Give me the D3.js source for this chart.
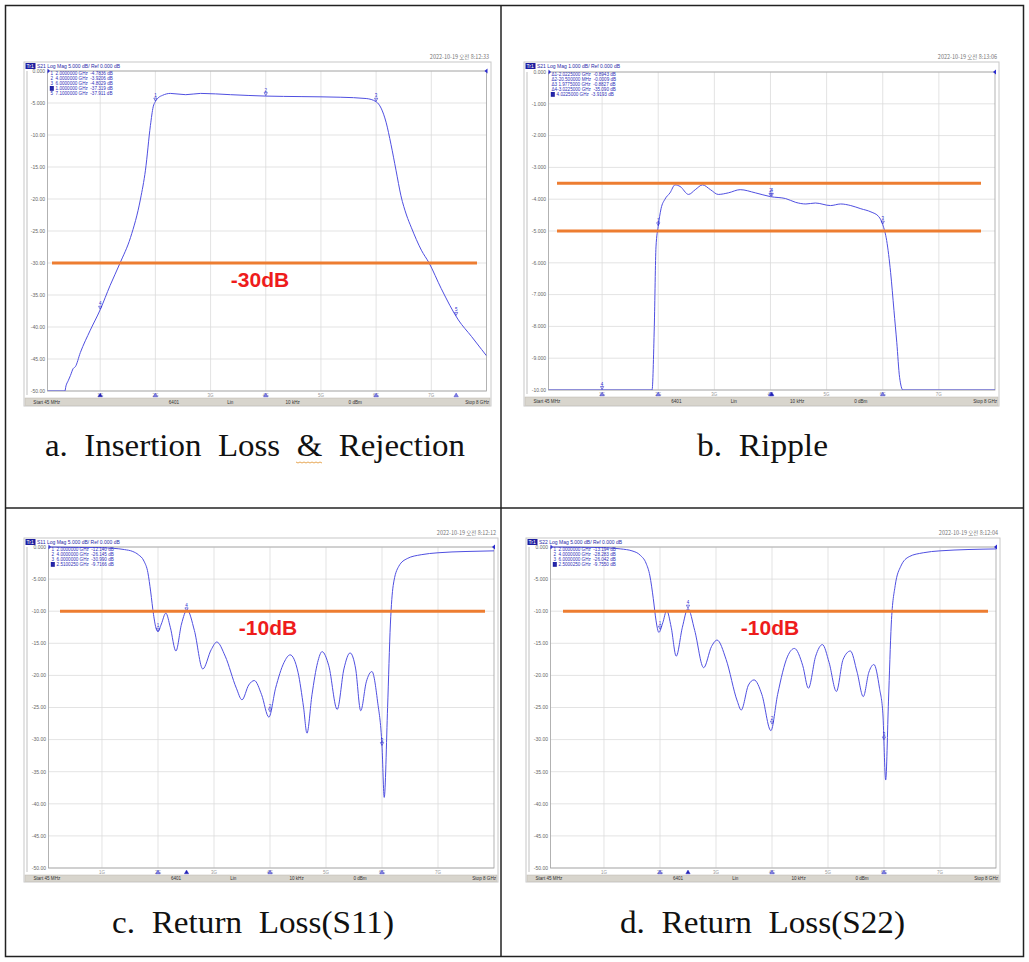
<!DOCTYPE html>
<html><head><meta charset="utf-8">
<script src="https://cdn.jsdelivr.net/npm/d3@7"></script>
<style>body{margin:0;background:#fff}</style>
</head><body>
<svg id="chart" width="1029" height="962" xmlns="http://www.w3.org/2000/svg"></svg>
<script>
// ---------------- DATA ----------------
const xGridGHz = [1, 2, 3, 4, 5, 6, 7];
const xTickLabels = ["1G", "2G", "3G", "4G", "5G", "6G", "7G"];
const yTicks50 = [0, -5, -10, -15, -20, -25, -30, -35, -40, -45, -50];
const yTickLabels50 = ["0.000", "-5.000", "-10.00", "-15.00", "-20.00", "-25.00", "-30.00", "-35.00", "-40.00", "-45.00", "-50.00"];
const yTicks10 = [0, -1, -2, -3, -4, -5, -6, -7, -8, -9, -10];
const yTickLabels10 = ["0.000", "-1.000", "-2.000", "-3.000", "-4.000", "-5.000", "-6.000", "-7.000", "-8.000", "-9.000", "-10.00"];
const statusTexts = ["Start 45 MHz", "6401", "Lin", "10 kHz", "0 dBm", "Stop 8 GHz"];

// Panel a : S21 insertion loss & rejection (GHz, dB)
const freqA = [0.045, 0.36, 0.38, 0.42, 0.46, 0.51, 0.55, 0.64, 0.82, 1.0, 1.18, 1.36, 1.55, 1.73, 1.82, 1.91, 1.96, 2.0, 2.05, 2.13, 2.27, 2.55, 2.82, 3.36, 4.0, 4.64, 5.36, 5.82, 6.0, 6.09, 6.18, 6.27, 6.36, 6.45, 6.55, 6.64, 6.82, 6.96, 7.18, 7.49, 7.73, 7.91, 8.0];
const s21A  = [-50, -50, -49.2, -48.4, -47.6, -46.5, -46.2, -44, -40.5, -37.3, -33.5, -30, -26, -20, -15.5, -8.5, -5.6, -4.78, -4.2, -3.8, -3.5, -3.7, -3.5, -3.7, -3.92, -4.0, -4.1, -4.3, -4.8, -5.8, -8, -11.5, -15.5, -19.5, -22.5, -24.5, -28, -30, -34, -38.9, -41.5, -43.5, -44.5];
const markerFreqA = [2.0, 4.0, 6.0, 1.0, 7.45];
const markerNamesA = ["1", "2", "3", "4", "5"];
const markerTextsA = ["1  2.0000000 GHz  -4.7836 dB", "2  4.0000000 GHz  -3.9206 dB", "3  6.0000000 GHz  -4.8029 dB", "4  1.0000000 GHz  -37.319 dB", "5  7.1000000 GHz  -37.911 dB"];

// Panel b : S21 ripple
const freqB = [0.045, 1.89, 1.93, 1.96, 2.0, 2.05, 2.12, 2.21, 2.3, 2.39, 2.54, 2.66, 2.79, 2.93, 3.07, 3.25, 3.46, 3.73, 4.0, 4.27, 4.45, 4.63, 4.8, 5.07, 5.25, 5.43, 5.61, 5.79, 5.93, 6.0, 6.07, 6.14, 6.2, 6.25, 6.3, 6.36, 8.0];
const s21B  = [-10, -10, -8, -5.5, -4.85, -4.3, -4.0, -3.8, -3.55, -3.6, -3.85, -3.7, -3.55, -3.7, -3.85, -3.8, -3.7, -3.8, -3.92, -3.98, -4.1, -4.15, -4.12, -4.2, -4.15, -4.2, -4.3, -4.4, -4.55, -4.8, -5.3, -6.3, -7.5, -8.5, -9.6, -10, -10];
const markerFreqB = [2.0, 4.002, 6.0, 1.0, 4.0225];
const markerNamesB = ["1", "2", "3", "4", "4"];
const markerTextsB = ["\u03941-2.0225000 GHz  -0.8943 dB", "\u03942-20.500000 MHz  -0.0009 dB", "\u03943 1.9775000 GHz  -0.8827 dB", "\u03944-3.0225000 GHz  -35.090 dB", "4  4.0225000 GHz  -3.9193 dB"];
const ripplePass = [-3.5, -5.0];

// Panel c : S11 return loss
const freqC = [0.045, 0.5, 1.0, 1.2, 1.4, 1.55, 1.65, 1.75, 1.82, 1.87, 1.92, 1.97, 2.0, 2.06, 2.14, 2.22, 2.32, 2.42, 2.52, 2.65, 2.8, 2.95, 3.05, 3.2, 3.4, 3.5, 3.62, 3.72, 3.85, 3.98, 4.1, 4.25, 4.36, 4.5, 4.6, 4.66, 4.75, 4.85, 4.93, 5.05, 5.2, 5.32, 5.43, 5.53, 5.62, 5.72, 5.82, 5.92, 6.0, 6.04, 6.1, 6.15, 6.2, 6.3, 6.45, 6.7, 7.0, 7.5, 8.0];
const s11C  = [0, -0.05, -0.1, -0.2, -0.4, -0.7, -1.2, -2.2, -4, -7, -10.5, -12.8, -13.2, -12, -10.3, -12.5, -16.2, -12, -9.8, -13, -19, -16, -14.8, -17, -22, -23.8, -21.5, -20.8, -23, -26.5, -22, -18, -16.8, -19.5, -25, -29, -23, -18, -16.3, -18.5, -25.3, -19, -16.5, -19, -25.5, -21, -19.4, -24, -31, -39, -25, -12, -6, -3, -1.8, -1.2, -0.9, -0.7, -0.6];
const markerFreqC = [2.0, 4.0, 6.0, 2.51];
const markerNamesC = ["1", "2", "3", "4"];
const markerTextsC = ["1  2.0000000 GHz  -12.140 dB", "2  4.0000000 GHz  -26.145 dB", "3  6.0000000 GHz  -30.990 dB", "4  2.5100250 GHz  -9.7166 dB"];

// Panel d : S22 return loss
const freqD = [0.045, 1.0, 1.3, 1.5, 1.65, 1.75, 1.82, 1.88, 1.93, 1.98, 2.05, 2.12, 2.2, 2.29, 2.4, 2.5, 2.62, 2.78, 2.92, 3.02, 3.18, 3.38, 3.45, 3.58, 3.68, 3.82, 3.98, 4.1, 4.28, 4.4, 4.55, 4.65, 4.78, 4.9, 5.02, 5.15, 5.27, 5.4, 5.52, 5.63, 5.73, 5.82, 5.92, 5.98, 6.03, 6.08, 6.13, 6.2, 6.3, 6.45, 6.7, 7.0, 8.0];
const s22D  = [0, -0.1, -0.3, -0.6, -1.3, -2.5, -4.5, -8, -11.5, -13.3, -11.8, -9.9, -12.5, -17, -12.5, -9.6, -13, -18.8, -15.5, -14.5, -17.5, -24, -25.4, -21.5, -20.7, -23, -28.6, -23, -17, -15.8, -18.5, -22, -17, -15.2, -18, -22.5, -17.5, -16.2, -19.5, -23.3, -19.5, -18.3, -22, -26, -36.3, -24, -12, -6, -3, -1.5, -0.9, -0.6, -0.3];
const markerFreqD = [2.0, 4.0, 6.0, 2.5];
const markerNamesD = ["1", "2", "3", "4"];
const markerTextsD = ["1  2.0000000 GHz  -13.194 dB", "2  4.0000000 GHz  -28.283 dB", "3  6.0000000 GHz  -26.042 dB", "4  2.5000250 GHz  -9.7550 dB"];

const limitC = -10, limitD = -10, limitA = -30;
const captions = ["a.  Insertion  Loss  &  Rejection", "b.  Ripple", "c.  Return  Loss(S11)", "d.  Return  Loss(S22)"];

// ---------------- DRAW ----------------
const svg = d3.select("#chart");
const TRACE = "#4f4fe0", MK = "#2a2ad0", ORANGE = "#ED7D31", RED = "#ee1c1c";
const SMALL = "'Liberation Sans', Arial, sans-serif";

function interp(fr, vals, f) {
  const i = d3.bisectLeft(fr, f);
  if (i <= 0) return vals[0];
  if (i >= fr.length) return vals[vals.length - 1];
  const t = (f - fr[i - 1]) / (fr[i] - fr[i - 1]);
  return vals[i - 1] + t * (vals[i] - vals[i - 1]);
}

let clipId = 0;
function drawPanel(p) {
  const g = svg.append("g");
  const x = d3.scaleLinear().domain([0.045, 8]).range([p.px0, p.px1]);
  const y = d3.scaleLinear().domain([p.yMin, 0]).range([p.py1, p.py0]);

  // screenshot frame
  g.append("rect").attr("x", p.fx0).attr("y", p.fy0).attr("width", p.fx1 - p.fx0).attr("height", p.fy1 - p.fy0)
    .attr("fill", "#fff").attr("stroke", "#c8c8c8").attr("stroke-width", 1);
  g.append("line").attr("x1", p.fx0 + 3).attr("x2", p.fx0 + 3).attr("y1", p.py0).attr("y2", p.py1 + 4)
    .attr("stroke", "#d6d6d6").attr("stroke-width", 1.5);

  // date
  g.append("text").attr("x", p.fx1 - 2).attr("y", p.fy0 - 3).attr("text-anchor", "end")
    .attr("font-family", "'Noto Sans CJK KR', sans-serif").attr("font-size", 5.5).attr("fill", "#777").text(p.date);

  // header
  g.append("rect").attr("x", p.fx0 + 1.5).attr("y", p.fy0 + 1).attr("width", 10).attr("height", 6).attr("fill", "#1e1ea0");
  g.append("text").attr("x", p.fx0 + 2.5).attr("y", p.fy0 + 6).attr("font-family", SMALL).attr("font-size", 5)
    .attr("fill", "#fff").text("Tr1");
  g.append("text").attr("x", p.fx0 + 13).attr("y", p.fy0 + 6).attr("font-family", SMALL).attr("font-size", 5)
    .attr("fill", "#2a2aa8").text(p.header);

  // grid
  g.selectAll(null).data(p.yTicks).join("line")
    .attr("x1", p.px0).attr("x2", p.px1).attr("y1", d => y(d)).attr("y2", d => y(d))
    .attr("stroke", "#dcdcdc").attr("stroke-width", 0.8);
  g.selectAll(null).data(xGridGHz).join("line")
    .attr("x1", d => x(d)).attr("x2", d => x(d)).attr("y1", p.py0).attr("y2", p.py1)
    .attr("stroke", "#dcdcdc").attr("stroke-width", 0.8);
  g.append("rect").attr("x", p.px0).attr("y", p.py0).attr("width", p.px1 - p.px0).attr("height", p.py1 - p.py0)
    .attr("fill", "none").attr("stroke", "#a0a0a0").attr("stroke-width", 0.8);

  // y labels
  g.selectAll(null).data(p.yTicks).join("text")
    .attr("x", p.px0 - 2.5).attr("y", d => y(d) + 1.8).attr("text-anchor", "end")
    .attr("font-family", SMALL).attr("font-size", 5).attr("fill", "#666")
    .text((d, i) => p.yLabels[i]);

  // x labels
  g.selectAll(null).data(xGridGHz).join("text")
    .attr("x", d => x(d)).attr("y", p.py1 + 5.5).attr("text-anchor", "middle")
    .attr("font-family", SMALL).attr("font-size", 4.5).attr("fill", "#999")
    .text((d, i) => xTickLabels[i]);

  // status bar
  const sy = p.py1 + 7;
  g.append("rect").attr("x", p.fx0 + 1).attr("y", sy).attr("width", p.fx1 - p.fx0 - 2).attr("height", p.fy1 - sy - 0.5)
    .attr("fill", "#d8d5cd").attr("stroke", "#bdb9b0").attr("stroke-width", 0.5);
  const sxs = [0.02, 0.31, 0.435, 0.56, 0.695];
  statusTexts.forEach((t, i) => {
    const last = i === statusTexts.length - 1;
    g.append("text")
      .attr("x", last ? p.fx1 - 2 : p.fx0 + sxs[i] * (p.fx1 - p.fx0))
      .attr("y", sy + (p.fy1 - sy) / 2 + 1.8)
      .attr("text-anchor", last ? "end" : "start")
      .attr("font-family", SMALL).attr("font-size", 4.6).attr("fill", "#333").text(t);
  });

  // reference level arrows
  g.append("path").attr("d", `M${p.px0},${y(0) - 2.5}L${p.px0 + 2.5},${y(0)}L${p.px0},${y(0) + 2.5}Z`).attr("fill", MK);
  g.append("path").attr("d", `M${p.px1 + 1},${y(0) - 2.5}L${p.px1 - 2},${y(0)}L${p.px1 + 1},${y(0) + 2.5}Z`).attr("fill", MK);

  // trace
  const cid = "clip" + (clipId++);
  g.append("clipPath").attr("id", cid).append("rect")
    .attr("x", p.px0).attr("y", p.py0 - 1).attr("width", p.px1 - p.px0).attr("height", p.py1 - p.py0 + 1);
  const line = d3.line().x(d => x(d[0])).y(d => y(d[1])).curve(d3.curveMonotoneX);
  g.append("path").attr("clip-path", `url(#${cid})`)
    .attr("d", line(d3.zip(p.freq, p.vals)))
    .attr("fill", "none").attr("stroke", TRACE).attr("stroke-width", 1);

  // markers on trace
  p.mFreq.forEach((f, i) => {
    const mx = x(f), my = y(Math.max(p.yMin, interp(p.freq, p.vals, f)));
    g.append("path").attr("d", `M${mx - 1.6},${my - 3.5}L${mx + 1.6},${my - 3.5}L${mx},${my - 0.5}Z`)
      .attr("fill", "none").attr("stroke", MK).attr("stroke-width", 0.6);
    g.append("text").attr("x", mx).attr("y", my - 4.5).attr("text-anchor", "middle")
      .attr("font-family", SMALL).attr("font-size", 4.5).attr("fill", MK).text(p.mNames[i]);
    // bottom triangle
    g.append("path").attr("d", `M${mx - 2.2},${p.py1 + 5.8}L${mx + 2.2},${p.py1 + 5.8}L${mx},${p.py1 + 2}Z`)
      .attr("fill", i === p.active ? "#2020b0" : "#8080e0").attr("stroke", MK).attr("stroke-width", 0.4);
  });

  // marker readout
  p.mTexts.forEach((t, i) => {
    const ty = p.py0 + 4 + i * 5;
    if (i === p.active) {
      g.append("rect").attr("x", p.px0 + 2.3).attr("y", ty - 4).attr("width", 4).attr("height", 4.8).attr("fill", "#1e1ea0");
    }
    g.append("text").attr("x", p.px0 + 3).attr("y", ty).attr("xml:space", "preserve")
      .attr("font-family", SMALL).attr("font-size", 4.6).attr("fill", "#3030b8").text(t);
  });

  // limit lines + labels
  p.limits.forEach(L => {
    g.append("line").attr("x1", L.x0).attr("x2", L.x1).attr("y1", y(L.v)).attr("y2", y(L.v))
      .attr("stroke", ORANGE).attr("stroke-width", 3);
    if (L.label) {
      g.append("text").attr("x", L.lx).attr("y", y(L.v) + L.dy).attr("text-anchor", "middle")
        .attr("font-family", SMALL).attr("font-weight", "bold").attr("font-size", 21).attr("fill", RED).text(L.label);
    }
  });
}

// table frame
svg.append("rect").attr("x", 5.5).attr("y", 5.5).attr("width", 1018).attr("height", 951)
  .attr("fill", "none").attr("stroke", "#222").attr("stroke-width", 1.5);
svg.append("line").attr("x1", 501).attr("x2", 501).attr("y1", 5).attr("y2", 957).attr("stroke", "#222").attr("stroke-width", 1.5);
svg.append("line").attr("x1", 5).attr("x2", 1024).attr("y1", 508).attr("y2", 508).attr("stroke", "#222").attr("stroke-width", 1.5);

drawPanel({
  fx0: 24, fy0: 62, fx1: 491, fy1: 406, px0: 47.5, px1: 486.5, py0: 71, py1: 391,
  yMin: -50, yTicks: yTicks50, yLabels: yTickLabels50,
  header: "S21  Log Mag  5.000 dB/  Ref 0.000 dB", date: "2022-10-19 \uC624\uC804 8:12:33",
  freq: freqA, vals: s21A, mFreq: markerFreqA, mNames: markerNamesA, mTexts: markerTextsA, active: 3,
  limits: [{ v: limitA, x0: 52, x1: 477, label: "-30dB", lx: 260, dy: 24 }]
});
drawPanel({
  fx0: 524, fy0: 62, fx1: 999, fy1: 406, px0: 548.5, px1: 995, py0: 72, py1: 390,
  yMin: -10, yTicks: yTicks10, yLabels: yTickLabels10,
  header: "S21  Log Mag  1.000 dB/  Ref 0.000 dB", date: "2022-10-19 \uC624\uC804 8:13:06",
  freq: freqB, vals: s21B, mFreq: markerFreqB, mNames: markerNamesB, mTexts: markerTextsB, active: 4,
  limits: [{ v: ripplePass[0], x0: 557, x1: 981 }, { v: ripplePass[1], x0: 557, x1: 981 }]
});
drawPanel({
  fx0: 24, fy0: 538, fx1: 498, fy1: 882, px0: 48.5, px1: 494, py0: 547, py1: 868,
  yMin: -50, yTicks: yTicks50, yLabels: yTickLabels50,
  header: "S11  Log Mag  5.000 dB/  Ref 0.000 dB", date: "2022-10-19 \uC624\uC804 8:12:12",
  freq: freqC, vals: s11C, mFreq: markerFreqC, mNames: markerNamesC, mTexts: markerTextsC, active: 3,
  limits: [{ v: limitC, x0: 60, x1: 485, label: "-10dB", lx: 268, dy: 24 }]
});
drawPanel({
  fx0: 526, fy0: 538, fx1: 1000, fy1: 882, px0: 550.5, px1: 996, py0: 547, py1: 868,
  yMin: -50, yTicks: yTicks50, yLabels: yTickLabels50,
  header: "S22  Log Mag  5.000 dB/  Ref 0.000 dB", date: "2022-10-19 \uC624\uC804 8:12:04",
  freq: freqD, vals: s22D, mFreq: markerFreqD, mNames: markerNamesD, mTexts: markerTextsD, active: 3,
  limits: [{ v: limitD, x0: 563, x1: 988, label: "-10dB", lx: 770, dy: 24 }]
});

// captions
const capPos = [[255, 456, 420], [762.5, 456, 131], [253, 933, 282], [762.5, 933, 285]];
captions.forEach((c, i) => {
  svg.append("text").attr("x", capPos[i][0]).attr("y", capPos[i][1]).attr("text-anchor", "middle")
    .attr("xml:space", "preserve")
    .attr("font-family", "'Liberation Serif', 'DejaVu Serif', serif").attr("font-size", 32).attr("fill", "#111")
    .attr("textLength", capPos[i][2]).attr("lengthAdjust", "spacingAndGlyphs").text(c);
});
// spell-check squiggle under "&"
const sq = d3.range(0, 14).map(k => [296 + k * 2, 462 + (k % 2 ? 1 : 0)]);
svg.append("path").attr("d", d3.line()(sq)).attr("fill", "none").attr("stroke", "#e0902a").attr("stroke-width", 0.8);
</script>
</body></html>
